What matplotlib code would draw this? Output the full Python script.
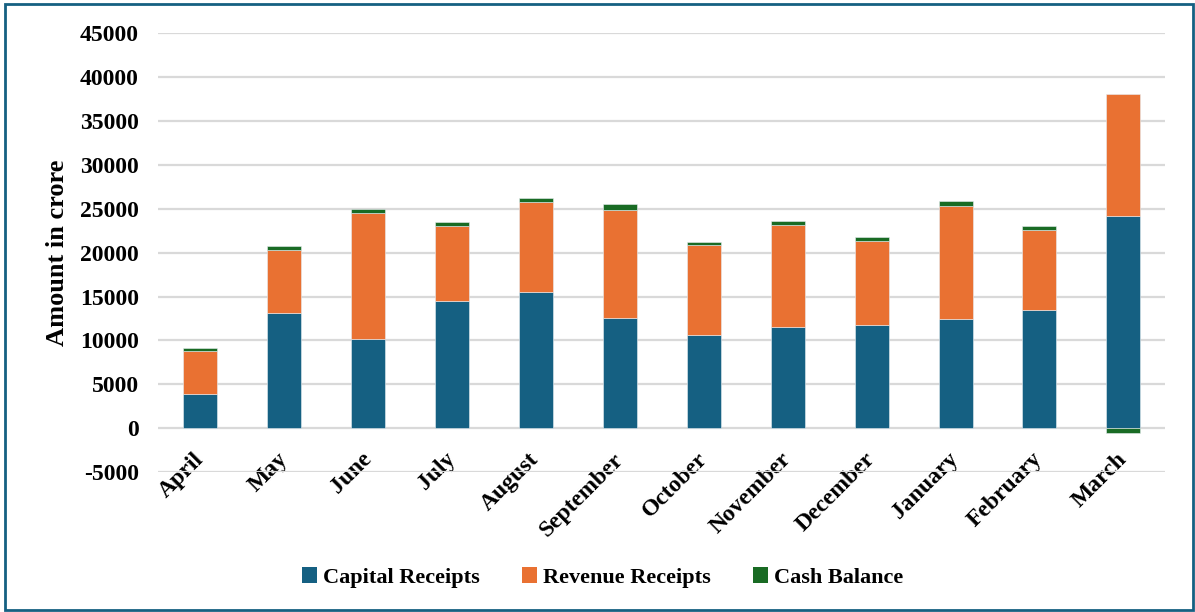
import matplotlib
matplotlib.use("Agg")
import matplotlib.pyplot as plt
from matplotlib.patches import Rectangle, Patch
import numpy as np

months = ["April", "May", "June", "July", "August", "September", "October",
          "November", "December", "January", "February", "March"]
capital_receipts = [3860, 13110, 10190, 14550, 15530, 12540, 10610, 11480, 11820, 12430, 13450, 24170]
revenue_receipts = [4970, 7200, 14280, 8520, 10230, 12350, 10270, 11700, 9510, 12910, 9130, 13860]
cash_balance = [370, 460, 460, 450, 420, 640, 340, 460, 420, 500, 450, -500]
y_ticks = list(range(-5000, 45001, 5000))

C_CAP = "#156082"
C_REV = "#E97132"
C_CASH = "#196B24"

plt.rcParams["font.family"] = ["Liberation Serif", "DejaVu Serif"]
plt.rcParams["font.weight"] = "bold"

fig = plt.figure(figsize=(11.95, 6.12), dpi=100)
ax = fig.add_axes([0.1325, 0.2283, 0.8427, 0.7178])

x = np.arange(len(months))
cap = np.array(capital_receipts, dtype=float)
rev = np.array(revenue_receipts, dtype=float)
cash = np.array(cash_balance, dtype=float)

width = 0.405
edge = dict(edgecolor="#E8EEF2", linewidth=0.4)
ax.bar(x, cap, width, color=C_CAP, zorder=3, **edge)
ax.bar(x, rev, width, bottom=cap, color=C_REV, zorder=3, **edge)
# positive balances sit on top of the stack, negative ones hang below zero
cash_bottom = np.where(cash >= 0, cap + rev, 0)
ax.bar(x, cash, width, bottom=cash_bottom, color=C_CASH, zorder=3, **edge)

ax.set_xlim(-0.5, len(months) - 0.5)
ax.set_ylim(-5000, 45000)
ax.set_yticks(y_ticks)
ax.set_yticklabels([str(v) for v in y_ticks], fontsize=17, fontweight="bold")
ax.yaxis.grid(True, color="#D9D9D9", linewidth=1.6, zorder=0)
ax.set_axisbelow(True)
ax.tick_params(axis="y", length=0, pad=14)

for side in ["top", "right", "left"]:
    ax.spines[side].set_visible(False)
ax.spines["bottom"].set_position(("data", 0))
ax.spines["bottom"].set_visible(False)

ax.set_xticks(x)
ax.set_xticklabels(months, rotation=45, ha="right", va="center",
                   rotation_mode="anchor", fontsize=17, fontweight="bold")
ax.tick_params(axis="x", length=0, pad=20)

ax.set_ylabel("Amount in crore", fontsize=19, fontweight="bold", labelpad=8)

handles = [Patch(facecolor=C_CAP), Patch(facecolor=C_REV), Patch(facecolor=C_CASH)]
fig.legend(handles, ["Capital Receipts", "Revenue Receipts", "Cash Balance"],
           loc="center", bbox_to_anchor=(0.504, 0.056), ncol=3, frameon=False,
           prop={"family": ["Liberation Serif"], "weight": "bold", "size": 16},
           handlelength=0.7, handleheight=0.7, handletextpad=0.25,
           columnspacing=1.9)

fig.patches.append(Rectangle((0.0045, 0.004), 0.9935, 0.989, transform=fig.transFigure,
                             fill=False, edgecolor=C_CAP, linewidth=2, zorder=10))

fig.savefig("out.png", dpi=100)
